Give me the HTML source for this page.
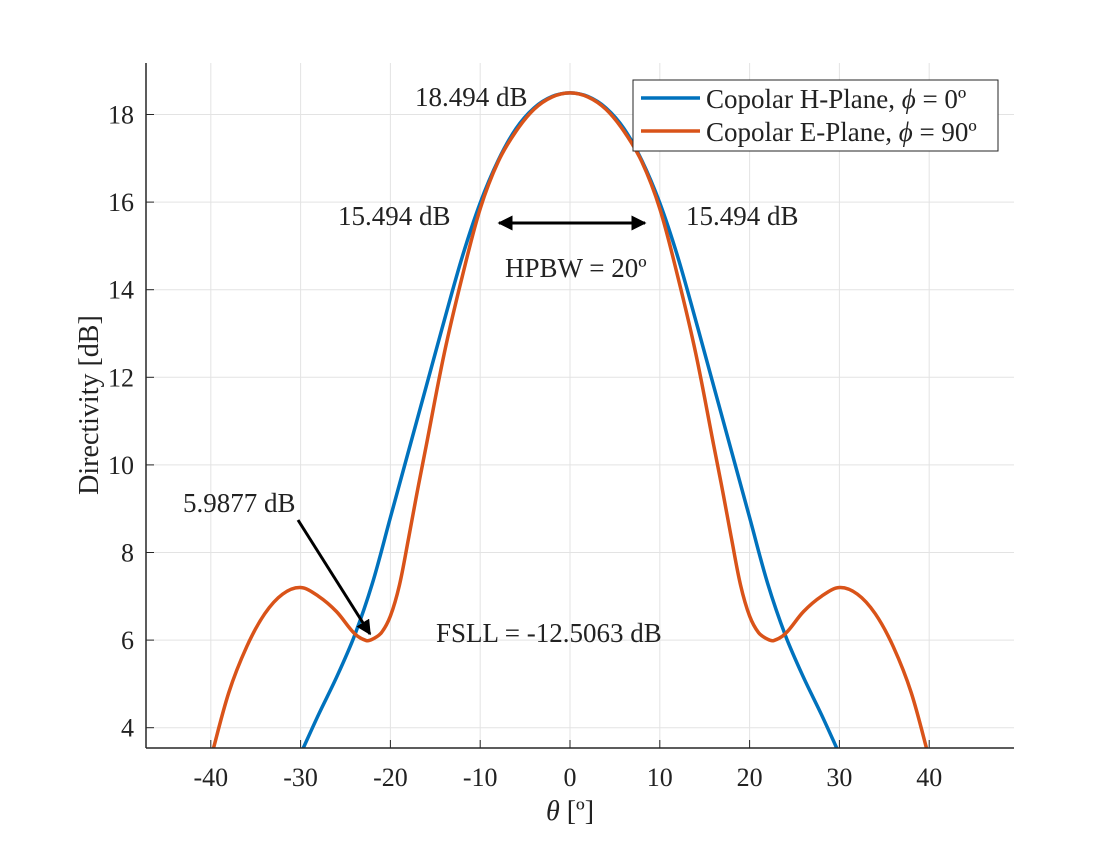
<!DOCTYPE html>
<html><head><meta charset="utf-8"><style>
body{margin:0;background:#fff}
svg text{font-family:"Liberation Serif",serif;fill:#222}
</style></head><body>
<svg id="c" width="1120" height="840"></svg>
<script>
const hTheta=[0,2,4,6,8,10,12,14,16,18,20,22,24,26,28,30];
const hDb=[18.494,18.41,18.15,17.68,16.95,15.98,14.75,13.3,11.8,10.3,8.8,7.3,6.1,5.15,4.3,3.4];
const eTheta=[0,2,4,6,8,10,12,14,16,17,18,19,20,21,22,22.7,24,26,28,30,32,34,36,38,40];
const eDb=[18.494,18.4,18.12,17.62,16.92,15.85,14.3,12.55,10.45,9.4,8.3,7.25,6.55,6.17,6.02,5.99,6.15,6.65,7.0,7.2,7.05,6.6,5.85,4.8,3.3];
const xTicks=[-40,-30,-20,-10,0,10,20,30,40];
const yTicks=[4,6,8,10,12,14,16,18];
const NS="http://www.w3.org/2000/svg";
const svg=document.getElementById('c');
const L=146,R=1014,T=63,B=748;
const X=v=>570+v*8.98;
const Y=v=>114.5-(v-18)*43.8;
function el(t,a,p){const e=document.createElementNS(NS,t);for(const k in a)e.setAttribute(k,a[k]);(p||svg).appendChild(e);return e;}
const clip=el('clipPath',{id:'cp'});el('rect',{x:L,y:T,width:R-L,height:B-T},clip);
xTicks.forEach(t=>{const g=el('line',{x1:X(t),x2:X(t),y1:T,y2:B,stroke:'#e3e3e3'});

});
yTicks.forEach(t=>{const g=el('line',{x1:L,x2:R,y1:Y(t),y2:Y(t),stroke:'#e3e3e3'});

});
function mirror(th,d){const pts=[];for(let i=th.length-1;i>0;i--)pts.push([-th[i],d[i]]);for(let i=0;i<th.length;i++)pts.push([th[i],d[i]]);return pts.map(p=>[X(p[0]),Y(p[1])]);}
function smooth(p){let s=`M${p[0][0]},${p[0][1]}`;for(let i=0;i<p.length-1;i++){const p0=p[i-1]||p[i],p1=p[i],p2=p[i+1],p3=p[i+2]||p2;
const d1=Math.hypot(p2[0]-p1[0],p2[1]-p1[1]);
const da=Math.hypot(p2[0]-p0[0],p2[1]-p0[1])||1,db=Math.hypot(p3[0]-p1[0],p3[1]-p1[1])||1;
const k1=d1/da/3,k2=d1/db/3;
s+=` C${p1[0]+(p2[0]-p0[0])*k1},${p1[1]+(p2[1]-p0[1])*k1} ${p2[0]-(p3[0]-p1[0])*k2},${p2[1]-(p3[1]-p1[1])*k2} ${p2[0]},${p2[1]}`;}return s;}
const hp=el('path',{d:smooth(mirror(hTheta,hDb)),fill:'none',stroke:'#0072bd','stroke-width':3.5,'clip-path':'url(#cp)'});


const ep=el('path',{d:smooth(mirror(eTheta,eDb)),fill:'none',stroke:'#d95319','stroke-width':3.5,'clip-path':'url(#cp)'});


el('line',{x1:L,x2:R,y1:B,y2:B,stroke:'#262626','stroke-width':1.5});
el('line',{x1:L,x2:L,y1:T,y2:B,stroke:'#262626','stroke-width':1.5});
xTicks.forEach(t=>{el('line',{x1:X(t),x2:X(t),y1:B,y2:B-8,stroke:'#262626'});
const tx=el('text',{x:X(t),y:B+38,'text-anchor':'middle','font-size':26});tx.textContent=t;

});
yTicks.forEach(t=>{el('line',{x1:L,x2:L+8,y1:Y(t),y2:Y(t),stroke:'#262626'});
const tx=el('text',{x:L-12,y:Y(t)+9,'text-anchor':'end','font-size':26});tx.textContent=t;

});
</script>
<svg width="1120" height="840" style="position:absolute;left:0;top:0">
<defs><marker id="ah" viewBox="0 0 10 10" refX="9" refY="5" markerWidth="5" markerHeight="5" orient="auto-start-reverse"><path d="M0,0L10,5L0,10z" fill="#000"/></marker></defs>
<text x="98" y="405" font-size="28" text-anchor="middle" transform="rotate(-90 98 405)">Directivity [dB]</text>
<text x="570" y="820" font-size="28" text-anchor="middle"><tspan font-style="italic">θ</tspan> [º]</text>
<text x="415" y="106" font-size="27">18.494 dB</text>
<text x="338" y="225" font-size="27">15.494 dB</text>
<text x="686" y="225" font-size="27">15.494 dB</text>
<line x1="499" y1="223" x2="645" y2="223" stroke="#000" stroke-width="3" marker-start="url(#ah)" marker-end="url(#ah)"/>
<text x="505" y="277" font-size="27">HPBW = 20º</text>
<text x="183" y="512" font-size="27">5.9877 dB</text>
<line x1="298" y1="520" x2="370" y2="634" stroke="#000" stroke-width="3" marker-end="url(#ah)"/>
<text x="436" y="642" font-size="27">FSLL = -12.5063 dB</text>
<g>
<rect x="633" y="80" width="365" height="71" fill="#fff" stroke="#262626" stroke-width="1"/>
<line x1="641" y1="98" x2="700" y2="98" stroke="#0072bd" stroke-width="3.5"/>
<text x="706" y="108" font-size="27">Copolar H-Plane, <tspan font-style="italic">ϕ</tspan> = 0º</text>
<line x1="641" y1="131" x2="700" y2="131" stroke="#d95319" stroke-width="3.5"/>
<text x="706" y="141" font-size="27">Copolar E-Plane, <tspan font-style="italic">ϕ</tspan> = 90º</text>
</g>
</svg>
</body></html>
